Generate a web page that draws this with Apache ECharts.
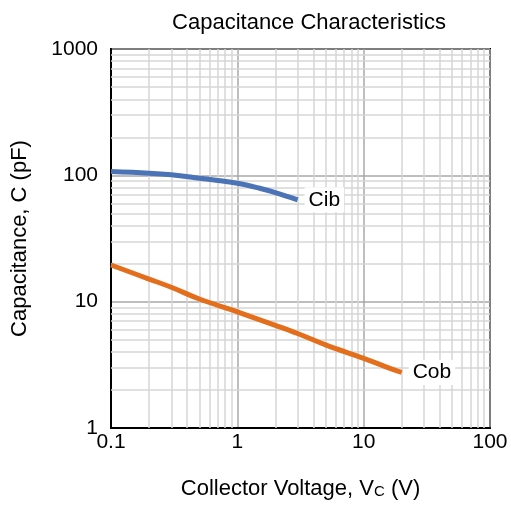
<!DOCTYPE html>
<html>
<head>
<meta charset="utf-8">
<script src="https://cdn.jsdelivr.net/npm/echarts@6/dist/echarts.min.js"></script>
<style>
  html, body { margin: 0; padding: 0; background: #fff; }
  #chart { width: 511px; height: 506px; }
</style>
</head>
<body>
<div id="chart"></div>
<script>
  const cibData = [[0.1, 107], [0.2, 104], [0.3, 101], [0.5, 95], [0.7, 91], [1, 86.5], [1.5, 79], [2, 73], [3, 64]]
  const cobData = [[0.1, 19.5], [0.2, 15.1], [0.3, 13], [0.5, 10.5], [1, 8.3], [2, 6.5], [3, 5.6], [5, 4.55], [10, 3.56], [15, 3.05], [20, 2.75]]
  const xDecades = [0.1, 1, 10]
  const yDecades = [1, 10, 100]
  const minorSteps = [2, 3, 4, 5, 6, 7, 8, 9]

  const font = 'Liberation Sans, Arial, sans-serif'
  const minorStyle = { color: '#d6d6d6', width: 1.5, type: 'solid' }

  // minor grid lines at 2..9 of each decade
  let minorLines = []
  xDecades.forEach(d => minorSteps.forEach(s => minorLines.push({ xAxis: d * s })))
  yDecades.forEach(d => minorSteps.forEach(s => minorLines.push({ yAxis: d * s })))

  const chart = echarts.init(document.getElementById('chart'))
  const option = {
    animation: false,
    title: {
      text: 'Capacitance Characteristics',
      left: 304, top: 7, textAlign: 'center',
      textStyle: { fontFamily: font, fontSize: 22, fontWeight: 'normal', color: '#000' }
    },
    grid: {
      left: 111, right: 21, top: 49, bottom: 78,
      outerBoundsMode: 'none',
      show: true, borderColor: '#000', borderWidth: 2
    },
    xAxis: {
      type: 'log', logBase: 10, min: 0.1, max: 100,
      name: '{n|Collector Voltage, V}{s|C}{n| (V)}',
      nameLocation: 'middle', nameGap: 50,
      nameTextStyle: {
        rich: {
          n: { fontFamily: font, fontSize: 22, color: '#000' },
          s: { fontFamily: font, fontSize: 15, color: '#000', padding: [6, 0, 0, 0] }
        }
      },
      axisLine: { show: true, lineStyle: { color: '#000', width: 2 } },
      axisTick: { show: false },
      axisLabel: { fontFamily: font, fontSize: 21, color: '#000', margin: 4,
        formatter: v => String(v) },
      splitLine: { show: true, lineStyle: { color: '#a8a8a8', width: 1.5 } }
    },
    yAxis: {
      type: 'log', logBase: 10, min: 1, max: 1000,
      name: 'Capacitance, C (pF)',
      nameLocation: 'middle', nameGap: 80,
      nameTextStyle: { fontFamily: font, fontSize: 22, color: '#000' },
      axisLine: { show: true, lineStyle: { color: '#000', width: 2 } },
      axisTick: { show: false },
      axisLabel: { fontFamily: font, fontSize: 21, color: '#000', margin: 13,
        formatter: v => String(v) },
      splitLine: { show: true, lineStyle: { color: '#a8a8a8', width: 1.5 } }
    },
    series: [
      {
        name: 'grid', type: 'line', data: [], silent: true,
        markLine: {
          silent: true, symbol: 'none', label: { show: false },
          lineStyle: minorStyle, data: minorLines, z: 1
        }
      },
      {
        name: 'Cib', type: 'line', data: cibData, smooth: 0.4, showSymbol: false,
        lineStyle: { color: '#4a74b6', width: 5 }, z: 5,
        endLabel: {
          show: true, formatter: 'Cib', distance: 7,
          fontFamily: font, fontSize: 21, color: '#000',
          backgroundColor: '#fff', padding: [2, 4]
        }
      },
      {
        name: 'Cob', type: 'line', data: cobData, smooth: 0.4, showSymbol: false,
        lineStyle: { color: '#e36e1c', width: 5 }, z: 5,
        endLabel: {
          show: true, formatter: 'Cob', distance: 7,
          fontFamily: font, fontSize: 21, color: '#000',
          backgroundColor: '#fff', padding: [2, 4]
        }
      }
    ]
  }
  chart.setOption(option)
</script>
</body>
</html>
